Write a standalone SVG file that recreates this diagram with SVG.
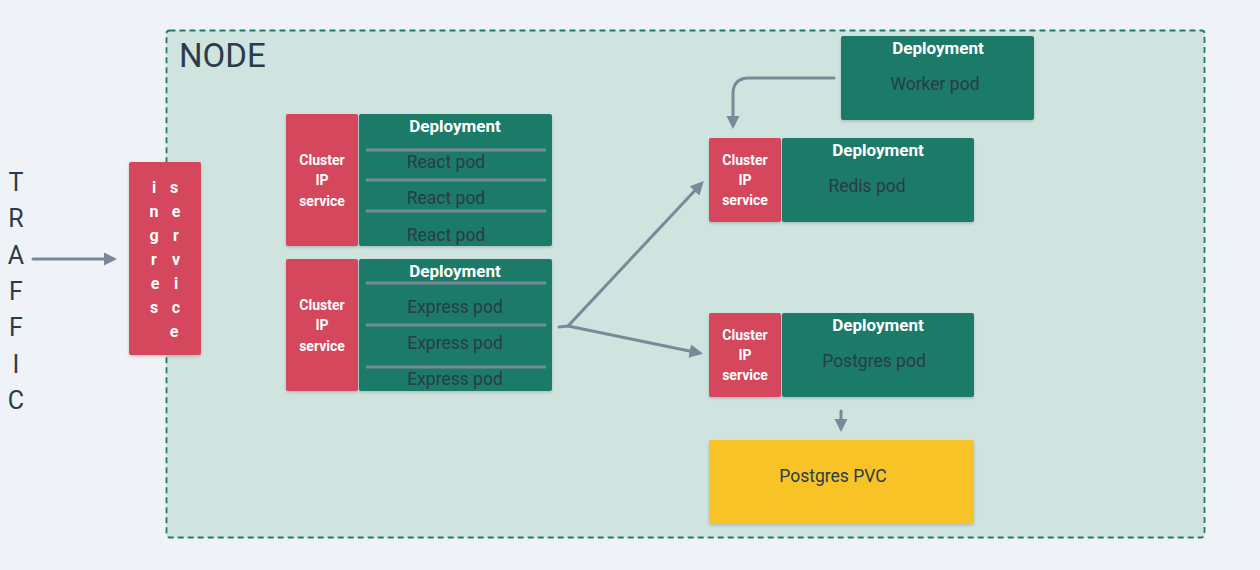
<svg xmlns="http://www.w3.org/2000/svg" width="1260" height="570" viewBox="0 0 1260 570">
<defs>
<filter id="sh" x="-10%" y="-10%" width="120%" height="130%">
<feDropShadow dx="0" dy="1.5" stdDeviation="1.5" flood-color="#000" flood-opacity="0.18"/>
</filter>
<marker id="ah" viewBox="0 0 10 10" refX="7" refY="5" markerWidth="4.5" markerHeight="4.5" markerUnits="strokeWidth" orient="auto">
<path d="M0,0 L10,5 L0,10 z" fill="#7a8999"/>
</marker>
<style>
text{font-family:Roboto,"Noto Sans",sans-serif}
.red{fill:#d4465c;filter:url(#sh)}
.grn{fill:#1f7a68;filter:url(#sh)}
.ylw{fill:#f7c325;filter:url(#sh)}
.wb{fill:#ffffff;font-weight:700;text-anchor:middle;dominant-baseline:central}
.dep{font-size:17px}
.cip{font-size:14px}
.ing{font-size:16px}
.pod{fill:#2a3b4a;font-size:17.5px;text-anchor:middle;dominant-baseline:central}
.div{stroke:#7a8999;stroke-width:3}
.con{stroke:#7a8999;stroke-width:3;fill:none;stroke-linecap:round}
.big{fill:#2a3b4a;font-size:25px;text-anchor:middle;dominant-baseline:central}
</style>
</defs>
<rect width="1260" height="570" fill="#eff3f7"/>
<g id="node-container">
<rect x="166.5" y="30.5" width="1038" height="507" rx="3" fill="#d0e4df" stroke="#1f7a68" stroke-width="1.8" stroke-dasharray="6,4"/>
<text x="179" y="67" font-size="33" fill="#2a3b4a">NODE</text>
</g>
<g id="traffic">
<text class="big" x="16" y="182">T</text>
<text class="big" x="16" y="218">R</text>
<text class="big" x="16" y="255">A</text>
<text class="big" x="16" y="291">F</text>
<text class="big" x="16" y="327">F</text>
<text class="big" x="16" y="364">I</text>
<text class="big" x="16" y="400">C</text>
</g>
<g id="ingress-service">
<rect class="red" x="129" y="162" width="72" height="193" rx="2"/>
<text class="wb ing" x="154" y="187">i</text>
<text class="wb ing" x="154" y="211">n</text>
<text class="wb ing" x="154" y="235">g</text>
<text class="wb ing" x="154" y="259">r</text>
<text class="wb ing" x="155" y="283">e</text>
<text class="wb ing" x="154" y="307">s</text>
<text class="wb ing" x="174" y="187">s</text>
<text class="wb ing" x="176" y="211">e</text>
<text class="wb ing" x="176" y="235">r</text>
<text class="wb ing" x="176" y="259">v</text>
<text class="wb ing" x="176" y="283">i</text>
<text class="wb ing" x="176" y="307">c</text>
<text class="wb ing" x="174" y="331">e</text>
</g>
<g id="react-service">
<rect class="red" x="286" y="114" width="72" height="132" rx="2"/>
<text class="wb cip" x="322" y="160">Cluster</text>
<text class="wb cip" x="322" y="180">IP</text>
<text class="wb cip" x="322" y="201">service</text>
</g>
<g id="react-deployment">
<rect class="grn" x="359" y="114" width="193" height="132" rx="2"/>
<text class="wb dep" x="455" y="126">Deployment</text>
<line class="div" x1="366" y1="150" x2="546" y2="150"/>
<line class="div" x1="366" y1="180" x2="546" y2="180"/>
<line class="div" x1="366" y1="211" x2="546" y2="211"/>
<text class="pod" x="446" y="162">React pod</text>
<text class="pod" x="446" y="198">React pod</text>
<text class="pod" x="446" y="235">React pod</text>
</g>
<g id="express-service">
<rect class="red" x="286" y="259" width="72" height="132" rx="2"/>
<text class="wb cip" x="322" y="305">Cluster</text>
<text class="wb cip" x="322" y="325">IP</text>
<text class="wb cip" x="322" y="346">service</text>
</g>
<g id="express-deployment">
<rect class="grn" x="359" y="259" width="193" height="132" rx="2"/>
<text class="wb dep" x="455" y="271">Deployment</text>
<line class="div" x1="366" y1="283" x2="546" y2="283"/>
<line class="div" x1="366" y1="325" x2="546" y2="325"/>
<line class="div" x1="366" y1="367" x2="546" y2="367"/>
<text class="pod" x="455" y="307">Express pod</text>
<text class="pod" x="455" y="343">Express pod</text>
<text class="pod" x="455" y="379">Express pod</text>
</g>
<g id="worker-deployment">
<rect class="grn" x="841" y="36" width="193" height="84" rx="2"/>
<text class="wb dep" x="938" y="48">Deployment</text>
<text class="pod" x="935" y="84">Worker pod</text>
</g>
<g id="redis-service">
<rect class="red" x="709" y="138" width="72" height="84" rx="2"/>
<text class="wb cip" x="745" y="160">Cluster</text>
<text class="wb cip" x="745" y="180">IP</text>
<text class="wb cip" x="745" y="200">service</text>
</g>
<g id="redis-deployment">
<rect class="grn" x="782" y="138" width="192" height="84" rx="2"/>
<text class="wb dep" x="878" y="150">Deployment</text>
<text class="pod" x="867" y="186">Redis pod</text>
</g>
<g id="postgres-service">
<rect class="red" x="709" y="313" width="72" height="84" rx="2"/>
<text class="wb cip" x="745" y="335">Cluster</text>
<text class="wb cip" x="745" y="355">IP</text>
<text class="wb cip" x="745" y="375">service</text>
</g>
<g id="postgres-deployment">
<rect class="grn" x="782" y="313" width="192" height="84" rx="2"/>
<text class="wb dep" x="878" y="325">Deployment</text>
<text class="pod" x="874" y="361">Postgres pod</text>
</g>
<g id="postgres-pvc">
<rect class="ylw" x="709" y="440" width="265" height="84" rx="2"/>
<text class="pod" x="833" y="476">Postgres PVC</text>
</g>
<g id="connectors">
<line class="con" x1="33" y1="259" x2="113" y2="259" marker-end="url(#ah)"/>
<path class="con" d="M834,78 H749 Q733,78 733,94 V125" marker-end="url(#ah)"/>
<path class="con" d="M559,327 L568,326 L701,184" marker-end="url(#ah)"/>
<path class="con" d="M568,326 L699,353" marker-end="url(#ah)"/>
<line class="con" x1="841" y1="411" x2="841" y2="428" marker-end="url(#ah)"/>
</g>
</svg>
